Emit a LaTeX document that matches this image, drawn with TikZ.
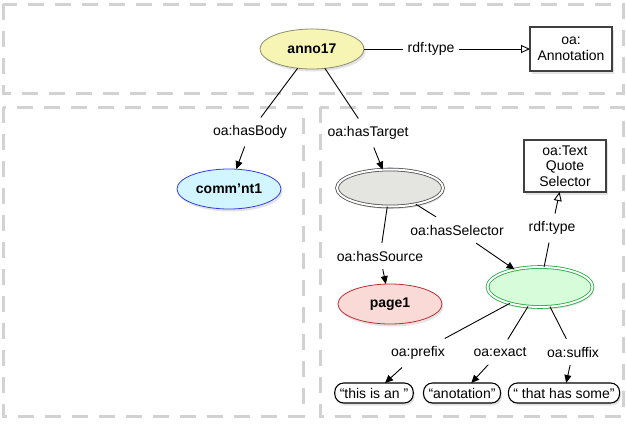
\documentclass[tikz,border=0pt]{standalone}
\usepackage{fontspec}
\setmainfont{Liberation Sans}
\usetikzlibrary{positioning,shapes.geometric,arrows.meta,shadows}

\definecolor{annoFill}{RGB}{246,245,180}
\definecolor{annoLine}{RGB}{140,140,110}
\definecolor{bodyFill}{RGB}{210,246,255}
\definecolor{bodyLine}{RGB}{50,60,220}
\definecolor{tgtFill}{RGB}{228,228,224}
\definecolor{tgtLine}{RGB}{80,80,80}
\definecolor{srcFill}{RGB}{250,218,214}
\definecolor{srcLine}{RGB}{190,45,45}
\definecolor{selFill}{RGB}{214,252,218}
\definecolor{selLine}{RGB}{30,170,60}

\begin{document}
\begin{tikzpicture}
[every node/.style={font=\fontsize{14}{15.5}\selectfont,inner sep=0pt,outer sep=0pt},
 res/.style={ellipse,minimum width=104pt,minimum height=40pt,line width=0.8pt,
             font=\fontsize{14}{15.5}\selectfont\bfseries,
             drop shadow={opacity=0.22,shadow xshift=1.5pt,shadow yshift=-2.5pt}},
 blank/.style={res,double=white,double distance=2pt,line width=0.8pt},
 cls/.style={rectangle,draw=black!75,line width=1.2pt,fill=white,minimum width=82pt,align=center,
             drop shadow={opacity=0.22,shadow xshift=1.5pt,shadow yshift=-2.5pt}},
 lit/.style={rectangle,rounded corners=9pt,draw=black,line width=1.1pt,fill=white,
             minimum height=20pt,inner xsep=5pt,
             drop shadow={opacity=0.22,shadow xshift=1.5pt,shadow yshift=-2.5pt}},
 lbl/.style={inner xsep=5pt,inner ysep=8pt},
 rel/.style={line width=0.9pt},
 arr/.style={rel,-{Triangle[length=8pt,width=7pt]}},
 isa/.style={rel,-{Triangle[open,length=9pt,width=8pt]}},
 frame/.style={draw=gray!35,line width=3pt,dash pattern=on 16pt off 11pt}]
\useasboundingbox (0pt,0pt) rectangle (626pt,-423pt);

% the three groups
\draw[frame] (3pt,-4pt)   rectangle (623pt,-93pt);
\draw[frame] (3pt,-107pt) rectangle (303pt,-416pt);
\draw[frame] (320pt,-107pt) rectangle (623pt,-416pt);

\node[res,draw=annoLine,fill=annoFill] (anno17) at (312pt,-49pt) {anno17};
\node[cls,minimum height=44pt] (annCls) [on grid,right=259pt of anno17] {oa:\\Annotation};
\node[lbl] (lType)   [on grid,right=119pt of anno17]                 {rdf:type};
\node[lbl] (lBody)   [on grid,below  left=83pt and 62pt of anno17]   {oa:hasBody};
\node[res,draw=bodyLine,fill=bodyFill] (cmt) [on grid,below left=57pt and 21pt of lBody] {comm’nt1};
\node[lbl] (lTarget) [on grid,below right=84pt and 56pt of anno17]   {oa:hasTarget};
\node[blank,draw=tgtLine,fill=tgtFill,minimum width=106pt,minimum height=37pt] (tgt)
      [on grid,below right=55pt and 22pt of lTarget] {};
\node[lbl] (lSource) [on grid,below  left=68pt and 10pt of tgt]      {oa:hasSource};
\node[res,draw=srcLine,fill=srcFill] (page) [on grid,below=116pt of tgt] {page1};
\node[lbl] (lSel)    [on grid,below right=42pt and 67pt of tgt]      {oa:hasSelector};
\node[blank,draw=selLine,fill=selFill,minimum width=105pt,minimum height=40pt] (sel)
      [on grid,below right=99pt and 150pt of tgt] {};
\node[cls,minimum height=52pt] (tqsCls) [on grid,above right=121pt and 25pt of sel] {oa:Text\\Quote\\Selector};
\node[lbl] (lType2)  [on grid,above right=59pt and 12pt of sel]      {rdf:type};
\node[lbl] (lPrefix) [on grid,below  left=66pt and 122pt of sel]     {oa:prefix};
\node[lbl] (lExact)  [on grid,below  left=65pt and 40pt of sel]      {oa:exact};
\node[lbl] (lSuffix) [on grid,below right=65pt and 33pt of sel]      {oa:suffix};
\node[lit] (litA) [on grid,below  left=40pt and 44pt of lPrefix] {“this is an ”};
\node[lit] (litB) [on grid,below  left=41pt and 38pt of lExact]  {“anotation”};
\node[lit] (litC) [on grid,below  left=41pt and 9pt of lSuffix]  {“ that has some”};

\path[rel] (anno17)  edge (lType);
\path[isa] (lType)   edge (annCls);
\path[rel] (anno17)  edge (lBody);
\path[arr] (lBody)   edge (cmt);
\path[rel] (anno17)  edge (lTarget);
\path[arr] (lTarget) edge (tgt);
\path[rel] (tgt)     edge (lSource);
\path[arr] (lSource) edge (page);
\path[rel] (tgt)     edge (lSel);
\path[arr] (lSel)    edge (sel);
\path[rel] (sel)     edge (lType2);
\path[isa] (lType2)  edge (tqsCls);
\path[rel] (sel)     edge (lPrefix);
\path[arr] (lPrefix) edge (litA);
\path[rel] (sel)     edge (lExact);
\path[arr] (lExact)  edge (litB);
\path[rel] (sel)     edge (lSuffix);
\path[arr] (lSuffix) edge (litC);
\end{tikzpicture}
\end{document}
